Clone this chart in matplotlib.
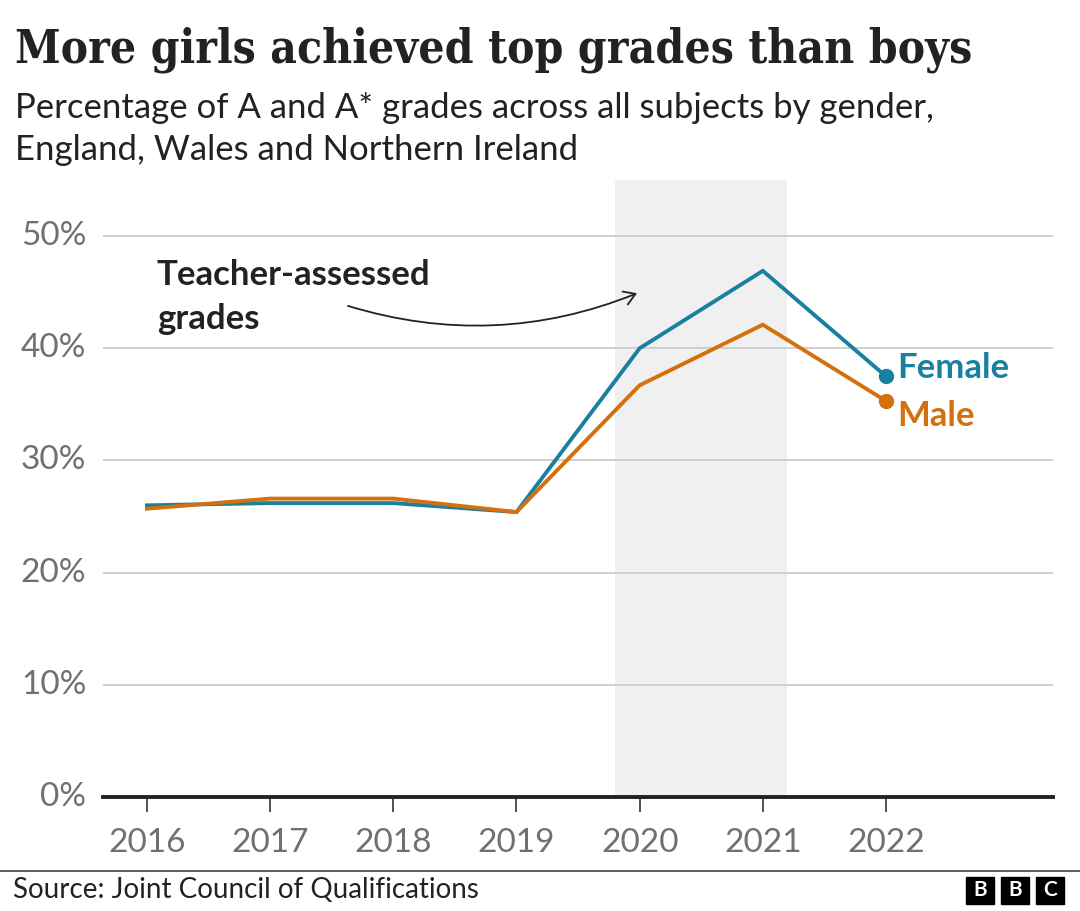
import numpy as np
import matplotlib.pyplot as plt
from matplotlib.patches import FancyArrowPatch, Rectangle

# data
years = [2016, 2017, 2018, 2019, 2020, 2021, 2022]
female = [26.0, 26.2, 26.2, 25.4, 40.0, 46.9, 37.5]
male = [25.7, 26.6, 26.6, 25.4, 36.7, 42.1, 35.3]
y_ticks = [0, 10, 20, 30, 40, 50]
tag_span = (2019.8, 2021.2)

female_col = '#1a80a0'
male_col = '#d4700e'
grey_txt = '#707070'

plt.rcParams['font.family'] = ['Lato', 'DejaVu Sans']

fig = plt.figure(figsize=(10.8, 9.11), dpi=100)
ax = fig.add_axes([103/1080, 1 - 797/911, (1053 - 103)/1080, (797 - 180)/911])

# shaded teacher-assessed years
ax.axvspan(tag_span[0], tag_span[1], color='#f0f0f0', zorder=0, lw=0)

# gridlines
for t in y_ticks[1:]:
    ax.axhline(t, color='#cccccc', lw=1.3, zorder=1)

ax.plot(years, female, color=female_col, lw=2.8, zorder=3, solid_joinstyle='miter')
ax.plot(years, male, color=male_col, lw=2.8, zorder=3, solid_joinstyle='miter')
ax.plot(years[-1], female[-1], 'o', color=female_col, ms=10, zorder=4)
ax.plot(years[-1], male[-1], 'o', color=male_col, ms=10, zorder=4)

ax.text(years[-1] + 0.09, 38.2, 'Female', color=female_col, fontsize=25,
        fontweight='bold', va='center', ha='left')
ax.text(years[-1] + 0.09, 34.0, 'Male', color=male_col, fontsize=25,
        fontweight='bold', va='center', ha='left')

# annotation
ax.text(2016.08, 44.6, 'Teacher-assessed\ngrades', fontsize=25, fontweight='bold',
        color='#222222', va='center', ha='left', linespacing=1.45)
arrow = FancyArrowPatch((2017.61, 43.85), (2020.0, 45.0), connectionstyle='arc3,rad=0.18',
                        arrowstyle='->,head_length=8,head_width=5', color='#222222', lw=1.3,
                        zorder=5)
ax.add_patch(arrow)

ax.set_xlim(2015.643, 2023.356)
ax.set_ylim(0, 55)
ax.set_xticks(years)
ax.set_xticklabels([str(y) for y in years])
ax.set_yticks(y_ticks)
ax.set_yticklabels([f'{t}%' for t in y_ticks])

for s in ['top', 'right', 'left']:
    ax.spines[s].set_visible(False)
ax.spines['bottom'].set_color('#222222')
ax.spines['bottom'].set_linewidth(2.8)
ax.spines['bottom'].set_zorder(6)
ax.tick_params(axis='x', length=11, width=1.2, color='#333333', labelsize=24,
               labelcolor=grey_txt, pad=11)
ax.tick_params(axis='y', length=0, labelsize=24, labelcolor=grey_txt, pad=12)
for lbl in ax.get_yticklabels():
    lbl.set_verticalalignment('center')

# titles
fig.text(15/1080, 1 - 50/911, 'More girls achieved top grades than boys', fontsize=33,
         fontweight='bold', family=['DejaVu Serif'], fontstretch='condensed',
         color='#222222', va='center', ha='left')
fig.text(15/1080, 1 - 129/911, 'Percentage of A and A* grades across all subjects by gender,\nEngland, Wales and Northern Ireland',
         fontsize=25, color='#222222', va='center', ha='left', linespacing=1.4)

# footer
fig.add_artist(plt.Line2D([0, 1], [1 - 871/911, 1 - 871/911], color='#444444', lw=1.2))
fig.text(13/1080, 1 - 890/911, 'Source: Joint Council of Qualifications', fontsize=20,
         color='#222222', va='center', ha='left')
for i, ch in enumerate('BBC'):
    x0 = (966 + i * 35) / 1080
    fig.add_artist(Rectangle((x0, 1 - 904/911), 28/1080, 27/911, transform=fig.transFigure,
                             color='black'))
    fig.text(x0 + 14/1080, 1 - 890.5/911, ch, fontsize=15, fontweight='bold', color='white',
             va='center', ha='center')

fig.savefig('out.png', dpi=100)
